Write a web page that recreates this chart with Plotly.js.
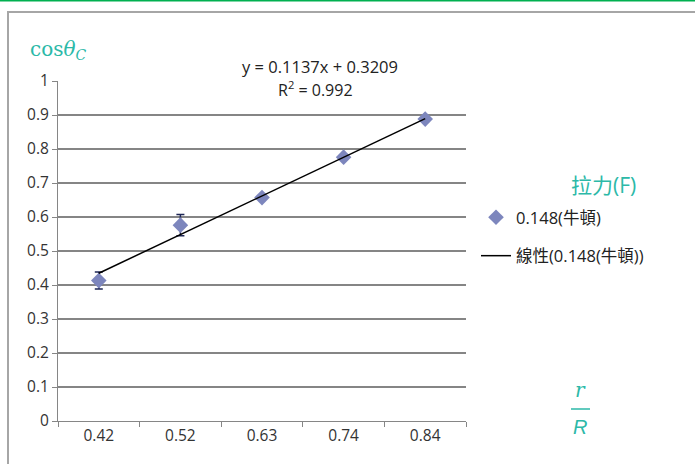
<!DOCTYPE html>
<html>
<head>
<meta charset="utf-8">
<script src="https://cdn.plot.ly/plotly-3.0.1.min.js"></script>
<style>html,body{margin:0;padding:0;background:#fff;}#chart{width:695px;height:464px;}</style>
</head>
<body>
<div id="chart"></div>
<script>
// Data
const categories = ["0.42", "0.52", "0.63", "0.74", "0.84"];
const cosThetaC = [0.413, 0.576, 0.657, 0.776, 0.888];
const errorValues = [0.025, 0.031, 0, 0, 0];
const seriesName = "0.148(牛頓)";
const trendName = "線性(0.148(牛頓))";
const legendTitle = "拉力(F)";
// Excel trendline (x = category index 1..n) as labelled on the chart
const trendSlope = 0.1137;
const trendIntercept = 0.3209;
const trendR2 = 0.992;
const yTickVals = [0, 0.1, 0.2, 0.3, 0.4, 0.5, 0.6, 0.7, 0.8, 0.9, 1];
const yTickText = ["0", "0.1", "0.2", "0.3", "0.4", "0.5", "0.6", "0.7", "0.8", "0.9", "1"];

const trendY = categories.map((c, i) => trendSlope * (i + 1) + trendIntercept);

const W = 695, H = 464;
const L = 58, R = 466, T = 81, B = 421;
const px = x => (x - L) / (R - L);
const py = y => (B - y) / (B - T);

const font = "'Open Sans', 'Noto Sans CJK TC', sans-serif";
const teal = "#2cb9a8";

const traces = [
  {
    type: "scatter", mode: "markers", x: categories, y: cosThetaC, name: seriesName,
    marker: {symbol: "diamond", size: 12, color: "#7d86bd", line: {width: 0}},
    error_y: {type: "data", array: errorValues, visible: true, color: "#1e2756", thickness: 1.5, width: 4},
    legendgroup: "a"
  },
  {
    type: "scatter", mode: "lines", x: categories, y: trendY, name: trendName,
    line: {color: "#000000", width: 1.5},
    legendgroup: "b"
  }
];

const layout = {
  width: W, height: H,
  margin: {l: L, r: W - R, t: T, b: H - B, pad: 0},
  paper_bgcolor: "#ffffff", plot_bgcolor: "#ffffff",
  font: {family: font, size: 15, color: "#333333"},
  showlegend: true,
  legend: {
    x: px(476), y: py(200), xanchor: "left", yanchor: "top",
    font: {size: 16.5, color: "#222222", family: font},
    traceorder: "grouped", tracegroupgap: 14,
    bgcolor: "rgba(0,0,0,0)", borderwidth: 0
  },
  xaxis: {
    type: "category", range: [-0.5, 4.5], tickson: "boundaries",
    showgrid: false, zeroline: false,
    showline: true, linecolor: "#868686", linewidth: 1,
    ticks: "outside", ticklen: 5, tickcolor: "#868686",
    tickfont: {size: 15.5, color: "#333333"}, fixedrange: true
  },
  yaxis: {
    range: [0, 1], tickvals: yTickVals, ticktext: yTickText,
    showgrid: true, gridcolor: "#858585", gridwidth: 1.4,
    zeroline: false, showline: true, linecolor: "#868686", linewidth: 1,
    ticks: "outside", ticklen: 5, tickcolor: "#868686",
    tickfont: {size: 15.5, color: "#333333"}, fixedrange: true
  },
  shapes: [
    {type: "line", xref: "paper", yref: "paper", x0: px(-5), x1: px(700), y0: py(0.5), y1: py(0.5),
     line: {color: "#00b050", width: 2}},
    {type: "rect", xref: "paper", yref: "paper", x0: px(8), x1: px(705), y0: py(12), y1: py(475),
     line: {color: "#a6a6a6", width: 2}},
    {type: "line", xref: "paper", yref: "paper", x0: px(571), x1: px(590), y0: py(409), y1: py(409),
     line: {color: teal, width: 1.5}}
  ],
  annotations: [
    {xref: "paper", yref: "paper", x: px(603), y: py(185), text: legendTitle,
     showarrow: false, font: {size: 21, color: teal, family: font}, xanchor: "center", yanchor: "middle"},
    {xref: "paper", yref: "paper", x: px(320), y: py(67), text: "y = 0.1137x + 0.3209",
     showarrow: false, font: {size: 16.5, color: "#222222"}, xanchor: "center", yanchor: "middle"},
    {xref: "paper", yref: "paper", x: px(315), y: py(89), text: "R<sup>2</sup> = " + trendR2,
     showarrow: false, font: {size: 16, color: "#222222"}, xanchor: "center", yanchor: "middle"},
    {xref: "paper", yref: "paper", x: px(28), y: py(50), text: "cos<i>θ</i><sub><i>C</i></sub>",
     showarrow: false, font: {size: 20, color: teal, family: "'DejaVu Serif', serif"}, xanchor: "left", yanchor: "middle"},
    {xref: "paper", yref: "paper", x: px(580), y: py(390), text: "<i>r</i>",
     showarrow: false, font: {size: 20, color: teal, family: "'DejaVu Serif', serif"}, xanchor: "center", yanchor: "middle"},
    {xref: "paper", yref: "paper", x: px(580), y: py(427), text: "<i>R</i>",
     showarrow: false, font: {size: 20, color: teal, family: "'Liberation Sans', sans-serif"}, xanchor: "center", yanchor: "middle"}
  ]
};

Plotly.newPlot("chart", traces, layout, {staticPlot: true, displayModeBar: false});
</script>
</body>
</html>
